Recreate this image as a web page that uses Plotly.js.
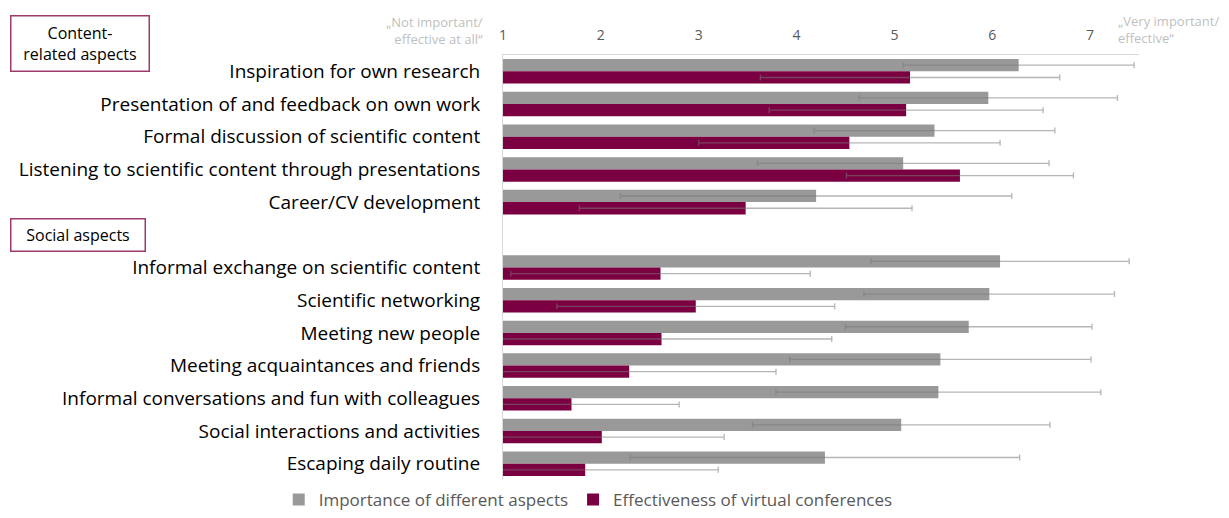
<!DOCTYPE html>
<html>
<head>
<meta charset="utf-8">
<script src="https://cdn.plot.ly/plotly-3.0.1.min.js"></script>
<style>html,body{margin:0;padding:0;background:#fff;}#chart{width:1229px;height:518px;}</style>
</head>
<body>
<div id="chart"></div>
<script>
const categories = [
  "Inspiration for own research",
  "Presentation of and feedback on own work",
  "Formal discussion of scientific content",
  "Listening to scientific content through presentations",
  "Career/CV development",
  " ",
  "Informal exchange on scientific content",
  "Scientific networking",
  "Meeting new people",
  "Meeting acquaintances and friends",
  "Informal conversations and fun with colleagues",
  "Social interactions and activities",
  "Escaping daily routine"
];
const importance =      [6.27, 5.96, 5.41, 5.09, 4.20, null, 6.08, 5.97, 5.76, 5.47, 5.45, 5.07, 4.29];
const importanceSD =    [1.18, 1.32, 1.23, 1.49, 2.00, null, 1.32, 1.28, 1.26, 1.54, 1.66, 1.52, 1.99];
const effectiveness =   [5.16, 5.12, 4.54, 5.67, 3.48, null, 2.61, 2.97, 2.62, 2.29, 1.70, 2.01, 1.84];
const effectivenessSD = [1.53, 1.40, 1.54, 1.16, 1.70, null, 1.53, 1.42, 1.74, 1.50, 1.10, 1.25, 1.36];
const tickValues = [1, 2, 3, 4, 5, 6, 7];
const seriesNames = ["Importance of different aspects", "Effectiveness of virtual conferences"];

const FONT = "'Open Sans', Lato, sans-serif";
const errStyle = {type: 'data', visible: true, color: 'rgba(120,120,120,0.55)', thickness: 1.3, width: 3};

const traces = [
  {
    type: 'bar', orientation: 'h', name: seriesNames[0],
    y: categories, x: importance,
    marker: {color: '#999999', line: {width: 0}},
    error_x: Object.assign({array: importanceSD}, errStyle),
    hoverinfo: 'x+y'
  },
  {
    type: 'bar', orientation: 'h', name: seriesNames[1],
    y: categories, x: effectiveness,
    marker: {color: '#7b0041', line: {width: 0}},
    error_x: Object.assign({array: effectivenessSD}, errStyle),
    hoverinfo: 'x+y'
  }
];

const layout = {
  width: 1229, height: 518,
  margin: {l: 503, r: 90, t: 55, b: 38},
  paper_bgcolor: '#ffffff', plot_bgcolor: '#ffffff',
  font: {family: FONT, color: '#000000'},
  barmode: 'group',
  bargap: 0.25,
  bargroupgap: 0,
  showlegend: true,
  legend: {
    orientation: 'h', xref: 'paper', x: 0.134, xanchor: 'center',
    yref: 'container', y: 0, yanchor: 'bottom',
    font: {family: FONT, size: 17, color: '#595959'},
    itemwidth: 30
  },
  xaxis: {
    side: 'top', range: [1, 7.5],
    tickvals: tickValues, ticktext: tickValues.map(String),
    tickfont: {family: FONT, size: 14, color: '#595959'},
    ticks: '', ticklabelstandoff: 8,
    showgrid: false, zeroline: false,
    showline: true, linecolor: '#d9d9d9', linewidth: 1
  },
  yaxis: {
    type: 'category', categoryorder: 'array', categoryarray: categories,
    autorange: 'reversed',
    tickfont: {family: FONT, size: 19, color: '#000000'},
    ticks: '', ticklabelstandoff: 18,
    showgrid: false, zeroline: false,
    showline: true, linecolor: '#d9d9d9', linewidth: 1
  },
  annotations: [
    {
      xref: 'paper', yref: 'paper', x: (80 - 503) / 636, y: 1 + (55 - 43) / 426,
      xanchor: 'center', yanchor: 'middle',
      text: 'Content-<br>related aspects', showarrow: false, align: 'center',
      font: {family: FONT, size: 16, color: '#000000'},
      bordercolor: '#a03a6c', borderwidth: 1.5, borderpad: 0,
      width: 137, height: 54, bgcolor: '#ffffff'
    },
    {
      xref: 'paper', yref: 'paper', x: (78 - 503) / 636, y: (480 - 234.5) / 426,
      xanchor: 'center', yanchor: 'middle',
      text: 'Social aspects', showarrow: false, align: 'center',
      font: {family: FONT, size: 16, color: '#000000'},
      bordercolor: '#a03a6c', borderwidth: 1.5, borderpad: 0,
      width: 133, height: 31, bgcolor: '#ffffff'
    },
    {
      xref: 'paper', yref: 'paper', x: (485 - 503) / 636, y: 1 + (55 - 30) / 426,
      xanchor: 'right', yanchor: 'middle',
      text: '„Not important/<br>effective at all“', showarrow: false, align: 'right',
      font: {family: FONT, size: 13, color: '#bfbfbf'}
    },
    {
      xref: 'paper', yref: 'paper', x: (1116 - 503) / 636, y: 1 + (55 - 29) / 426,
      xanchor: 'left', yanchor: 'middle',
      text: '„Very important/<br>effective“', showarrow: false, align: 'left',
      font: {family: FONT, size: 13, color: '#bfbfbf'}
    }
  ]
};

Plotly.newPlot('chart', traces, layout, {displayModeBar: false, responsive: false});
</script>
</body>
</html>
